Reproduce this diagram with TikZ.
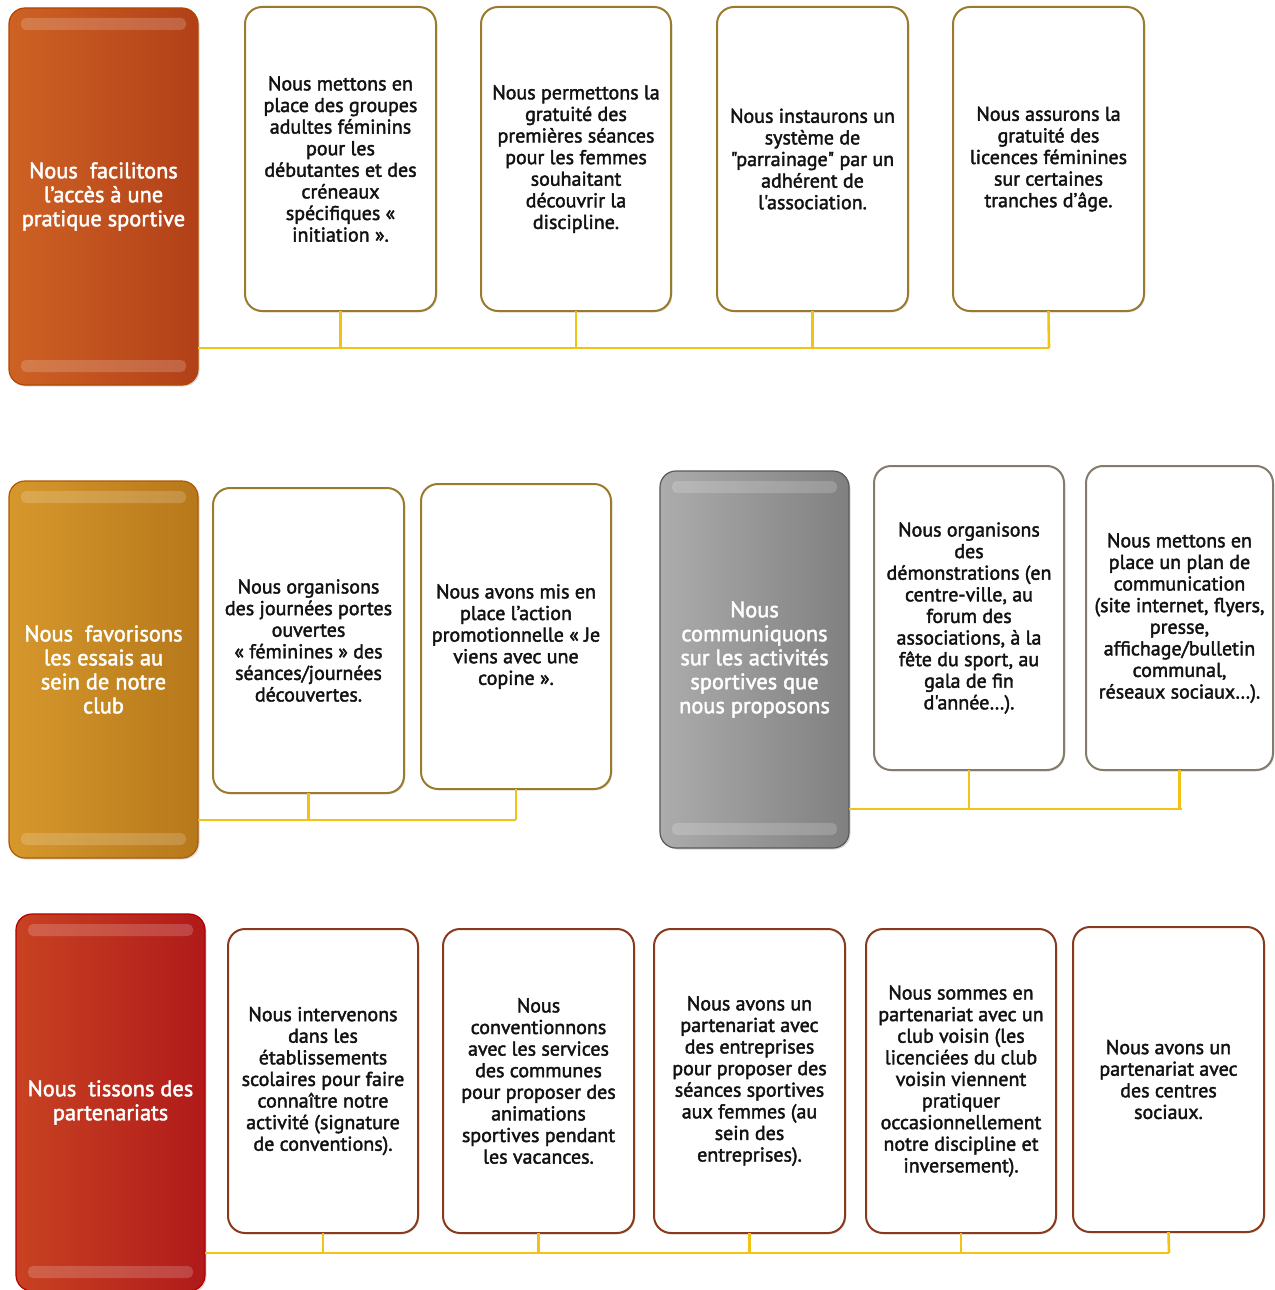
\documentclass[tikz,border=0pt]{standalone}
\usepackage{fontspec}
\setmainfont{PT Sans}[Ligatures=TeXOff,FakeBold=2]
\usetikzlibrary{shadows}
\definecolor{conn}{HTML}{F2C314}
\definecolor{bgold}{HTML}{9A7A2C}
\definecolor{bgray}{HTML}{857B6C}
\definecolor{bred}{HTML}{8A3A1C}
\definecolor{txt}{HTML}{121212}
\tikzset{
  x=1pt,y=-1pt,
  subbox/.style={draw=bgold,line width=2pt,fill=white,rounded corners=17pt,
    inner sep=0pt,outer sep=0pt,align=center,text=txt,
    font=\fontsize{20}{21.6}\selectfont,
    drop shadow={opacity=0.25,shadow xshift=1.3pt,shadow yshift=-1.3pt}},
  mainbox/.style={rounded corners=16pt,inner sep=0pt,outer sep=0pt,align=center,
    text=white,font=\fontsize{22.4}{24}\selectfont,minimum width=189pt,minimum height=377pt,
    draw=#1!70!black,line width=1.2pt,
    drop shadow={opacity=0.3,shadow xshift=1.5pt,shadow yshift=-1.5pt}},
  conline/.style={draw=conn,line width=2.6pt},
  gloss/.style={fill=white,opacity=0.18,rounded corners=5pt}
}
\newcommand\glossy[1]{%
  \fill[gloss] ([xshift=12pt,yshift=-10pt]#1.north west) rectangle ([xshift=-12pt,yshift=-22pt]#1.north east);
  \fill[gloss] ([xshift=12pt,yshift=13pt]#1.south west) rectangle ([xshift=-12pt,yshift=25pt]#1.south east);}
\begin{document}
\begin{tikzpicture}
\useasboundingbox (0,0) rectangle (1274,1290);
\fill[white] (0,0) rectangle (1274,1290);

% ---------- Row 1 ----------
\node[mainbox=orange!80!red,left color={rgb,255:red,206;green,98;blue,36},right color={rgb,255:red,178;green,64;blue,24}] (L1) at (103.5,196.5)
  {Nous\ \ facilitons\\l’accès à une\\pratique sportive};
\glossy{L1}
\node[subbox,minimum width=191pt,minimum height=304pt] (b11) at (340.5,159)
  {Nous mettons en\\place des groupes\\adultes féminins\\pour les\\débutantes et des\\créneaux\\spécifiques «\\initiation ».};
\node[subbox,minimum width=190pt,minimum height=304pt] (b12) at (576,159)
  {Nous permettons la\\gratuité des\\premières séances\\pour les femmes\\souhaitant\\découvrir la\\discipline.};
\node[subbox,minimum width=191pt,minimum height=304pt] (b13) at (812.5,159)
  {Nous instaurons un\\système de\\"parrainage" par un\\adhérent de\\l'association.};
\node[subbox,minimum width=191pt,minimum height=304pt] (b14) at (1048.5,159)
  {Nous assurons la\\gratuité des\\licences féminines\\sur certaines\\tranches d’âge.};
\coordinate (j1) at (1049,348);
\draw[conline] (L1.east |- j1) -- (j1);
\draw[conline] (b11.south) -- (b11.south |- j1);
\draw[conline] (b12.south) -- (b12.south |- j1);
\draw[conline] (b13.south) -- (b13.south |- j1);
\draw[conline] (b14.south) -- (j1);

% ---------- Row 2 ----------
\node[mainbox=orange,left color={rgb,255:red,214;green,152;blue,44},right color={rgb,255:red,182;green,120;blue,26}] (L2) at (103.5,669.5)
  {Nous\ \ favorisons\\les essais au\\sein de notre\\club};
\glossy{L2}
\node[subbox,minimum width=191pt,minimum height=305pt] (b21) at (308.5,640.5)
  {Nous organisons\\des journées portes\\ouvertes\\« féminines » des\\séances/journées\\découvertes.};
\node[subbox,minimum width=190pt,minimum height=305pt] (b22) at (516,636.5)
  {Nous avons mis en\\place l’action\\promotionnelle « Je\\viens avec une\\copine ».};
\coordinate (j2) at (516,820);
\draw[conline] (L2.east |- j2) -- (j2);
\draw[conline] (b21.south) -- (b21.south |- j2);
\draw[conline] (b22.south) -- (j2);

\node[mainbox=gray,left color={rgb,255:red,172;green,172;blue,172},right color={rgb,255:red,128;green,128;blue,128}] (L3) at (754.5,659.5)
  {Nous\\communiquons\\sur les activités\\sportives que\\nous proposons};
\glossy{L3}
\node[subbox,draw=bgray,minimum width=190pt,minimum height=304pt] (b23) at (969,618)
  {Nous organisons\\des\\démonstrations (en\\centre-ville, au\\forum des\\associations, à la\\fête du sport, au\\gala de fin\\d'année…).};
\node[subbox,draw=bgray,minimum width=187pt,minimum height=304pt] (b24) at (1179.5,618)
  {Nous mettons en\\place un plan de\\communication\\(site internet, flyers,\\presse,\\affichage/bulletin\\communal,\\réseaux sociaux…).};
\coordinate (j3) at (1182,809);
\draw[conline] (L3.east |- j3) -- (j3);
\draw[conline] (b23.south) -- (b23.south |- j3);
\draw[conline] (b24.south) -- (b24.south |- j3);

% ---------- Row 3 ----------
\node[mainbox=red,left color={rgb,255:red,200;green,66;blue,34},right color={rgb,255:red,176;green,26;blue,26}] (L4) at (110.5,1102.5)
  {Nous\ \ tissons des\\partenariats};
\glossy{L4}
\node[subbox,draw=bred,minimum width=190pt,minimum height=304pt] (b31) at (323,1081)
  {Nous intervenons\\dans les\\établissements\\scolaires pour faire\\connaître notre\\activité (signature\\de conventions).};
\node[subbox,draw=bred,minimum width=191pt,minimum height=304pt] (b32) at (538.5,1081)
  {Nous\\conventionnons\\avec les services\\des communes\\pour proposer des\\animations\\sportives pendant\\les vacances.};
\node[subbox,draw=bred,minimum width=191pt,minimum height=304pt] (b33) at (749.5,1081)
  {Nous avons un\\partenariat avec\\des entreprises\\pour proposer des\\séances sportives\\aux femmes (au\\sein des\\entreprises).};
\node[subbox,draw=bred,minimum width=190pt,minimum height=304pt] (b34) at (961,1081)
  {Nous sommes en\\partenariat avec un\\club voisin (les\\licenciées du club\\voisin viennent\\pratiquer\\occasionnellement\\notre discipline et\\inversement).};
\node[subbox,draw=bred,minimum width=191pt,minimum height=305pt] (b35) at (1168.5,1079.5)
  {Nous avons un\\partenariat avec\\des centres\\sociaux.};
\coordinate (j4) at (1169,1253);
\draw[conline] (L4.east |- j4) -- (j4);
\draw[conline] (b31.south) -- (b31.south |- j4);
\draw[conline] (b32.south) -- (b32.south |- j4);
\draw[conline] (b33.south) -- (b33.south |- j4);
\draw[conline] (b34.south) -- (b34.south |- j4);
\draw[conline] (b35.south) -- (j4);
\end{tikzpicture}
\end{document}
